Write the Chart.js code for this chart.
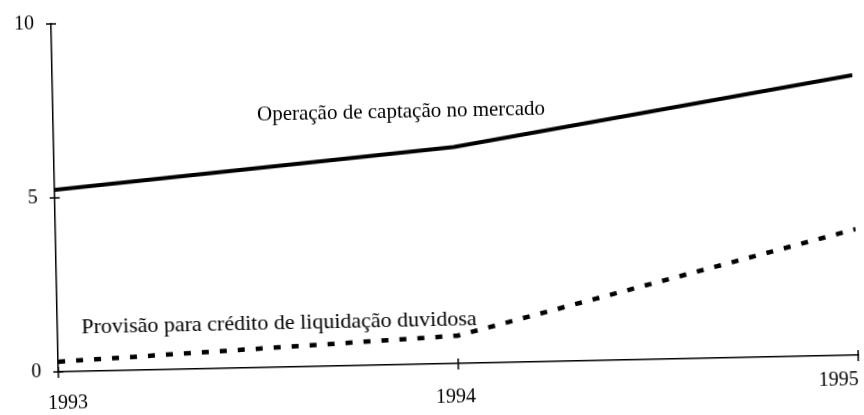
<!DOCTYPE html>
<html>
<head>
<meta charset="utf-8">
<script src="https://cdn.jsdelivr.net/npm/chart.js@4"></script>
<style>
  html, body { margin: 0; padding: 0; background: #fff; }
  #wrap { width: 864px; height: 415px; }
  /* the source is a slightly skewed scan */
  #chart { transform: rotate(-1.2deg); transform-origin: 50% 50%; }
</style>
</head>
<body>
<div id="wrap"><canvas id="chart" width="864" height="415"></canvas></div>
<script>
const years = [1993, 1994, 1995];
const captacao = [5.23, 6.22, 8.05];
const provisao = [0.29, 0.8, 3.62];
const yTicks = [0, 5, 10];
const xTickLabels = ["1993", "1994", "1995"];
const seriesNames = [
  "Operação de captação no mercado",
  "Provisão para crédito de liquidação duvidosa",
];

const serif = '"Liberation Serif", "Times New Roman", serif';
Chart.defaults.font.family = serif;
Chart.defaults.color = "#000";

// per-label placement of the year labels under the axis
const yearLabelStyle = [
  { align: "center", dx: 9, dy: 32 },
  { align: "center", dx: -3, dy: 34 },
  { align: "right", dx: 0, dy: 25 },
];
// where the line captions sit, in data units
const captionAnchors = [
  { x: 1993.51, y: 7.25, size: 21 },
  { x: 1993.06, y: 1.26, size: 22 },
];

const axisDecor = {
  id: "axisDecor",
  afterDraw(chart) {
    const ctx = chart.ctx;
    const xs = chart.scales.x;
    const ys = chart.scales.y;
    ctx.save();
    ctx.strokeStyle = "#000";
    ctx.lineWidth = 1.5;
    // crossing tick marks
    yTicks.forEach((v) => {
      const py = ys.getPixelForValue(v);
      ctx.beginPath();
      ctx.moveTo(xs.left - 5, py);
      ctx.lineTo(xs.left + 5, py);
      ctx.stroke();
    });
    years.forEach((yr) => {
      const px = xs.getPixelForValue(yr);
      ctx.beginPath();
      ctx.moveTo(px, ys.bottom - 5);
      ctx.lineTo(px, ys.bottom + 6);
      ctx.stroke();
    });
    // year labels
    ctx.fillStyle = "#000";
    ctx.font = "20px " + serif;
    ctx.textBaseline = "middle";
    xTickLabels.forEach((lab, i) => {
      const s = yearLabelStyle[i];
      ctx.textAlign = s.align;
      ctx.fillText(lab, xs.getPixelForValue(years[i]) + s.dx, ys.bottom + s.dy);
    });
    // line captions
    ctx.textAlign = "left";
    seriesNames.forEach((name, i) => {
      const a = captionAnchors[i];
      ctx.font = a.size + "px " + serif;
      ctx.fillText(name, xs.getPixelForValue(a.x), ys.getPixelForValue(a.y));
    });
    ctx.restore();
  },
};

new Chart(document.getElementById("chart"), {
  type: "line",
  data: {
    datasets: [
      {
        label: seriesNames[0],
        data: years.map((yr, i) => ({ x: yr, y: captacao[i] })),
        borderColor: "#000",
        borderWidth: 4,
        pointRadius: 0,
        tension: 0,
      },
      {
        label: seriesNames[1],
        data: years.map((yr, i) => ({ x: yr, y: provisao[i] })),
        borderColor: "#000",
        borderWidth: 4.5,
        borderDash: [7, 11],
        pointRadius: 0,
        tension: 0,
      },
    ],
  },
  options: {
    responsive: false,
    animation: false,
    layout: {
      autoPadding: false,
      padding: { top: 16, right: 9, left: 0, bottom: 0 },
    },
    plugins: {
      legend: { display: false },
      tooltip: { enabled: false },
    },
    scales: {
      x: {
        type: "linear",
        min: 1993,
        max: 1995,
        grid: { display: false },
        border: { display: true, color: "#000", width: 1.5 },
        ticks: { display: false },
        afterFit: (scale) => { scale.height = 51; },
      },
      y: {
        min: 0,
        max: 10,
        grid: { display: false, drawTicks: false },
        border: { display: true, color: "#000", width: 1.5 },
        afterBuildTicks: (scale) => {
          scale.ticks = yTicks.map((v) => ({ value: v }));
        },
        ticks: {
          padding: 17,
          font: { size: 20 },
          color: "#000",
        },
        afterFit: (scale) => {
          scale.width = 55;
          // labels may overflow; keep the plot area where the scan has it
          scale.paddingTop = 0;
          scale.paddingBottom = 0;
        },
      },
    },
  },
  plugins: [axisDecor],
});
</script>
</body>
</html>
